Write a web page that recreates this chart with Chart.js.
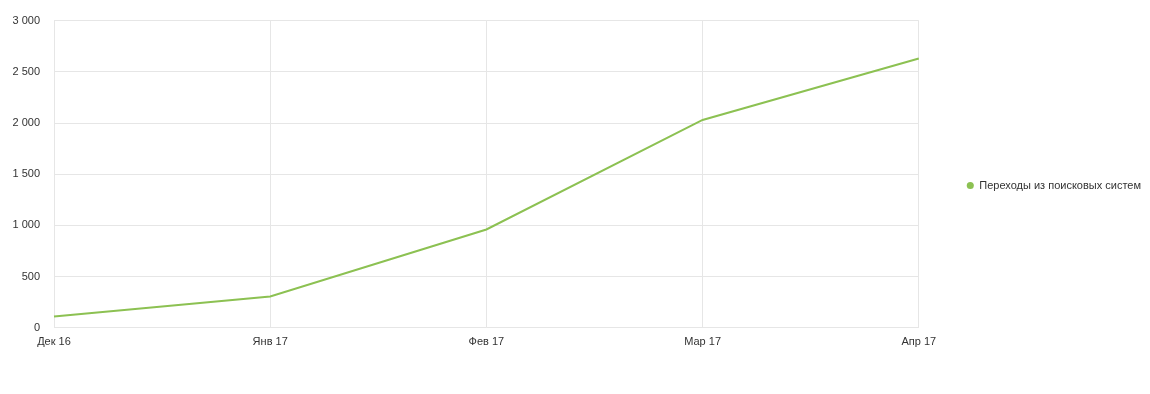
<!DOCTYPE html>
<html>
<head>
<meta charset="utf-8">
<script src="https://cdn.jsdelivr.net/npm/chart.js@4"></script>
<style>
    html, body { margin: 0; padding: 0; background: #fff; }
    #wrap { width: 1150px; height: 394px; position: relative; }
</style>
</head>
<body>
<div id="wrap"><canvas id="trafficChart"></canvas></div>
<script>
// ===== Data =====
const months = ['Дек 16', 'Янв 17', 'Фев 17', 'Мар 17', 'Апр 17'];
const searchVisits = [110, 305, 960, 2030, 2630];
const seriesName = 'Переходы из поисковых систем';

const colors = {
    line: '#8cc152',
    grid: '#e6e6e6',
    text: '#333333'
};

Chart.defaults.font.family = '"Liberation Sans", Arial, sans-serif';
Chart.defaults.font.size = 11;
Chart.defaults.color = colors.text;

// thousand separator with space: 2 500
function fmt(v) {
    return String(v).replace(/\B(?=(\d{3})+(?!\d))/g, ' ');
}

new Chart(document.getElementById('trafficChart'), {
    type: 'line',
    data: {
        labels: months,
        datasets: [{
            label: seriesName,
            data: searchVisits,
            borderColor: colors.line,
            backgroundColor: colors.line,
            borderWidth: 2,
            tension: 0,
            fill: false,
            pointRadius: 0,
            pointHoverRadius: 0
        }]
    },
    options: {
        responsive: true,
        maintainAspectRatio: false,
        animation: false,
        layout: {
            padding: { top: 14, left: 0, right: -1, bottom: 37 }
        },
        plugins: {
            legend: {
                position: 'right',
                labels: {
                    usePointStyle: true,
                    pointStyle: 'circle',
                    boxWidth: 7,
                    boxHeight: 5,
                    padding: 48,
                    font: { size: 11 },
                    color: colors.text,
                    // plain filled dot, no outline
                    generateLabels: chart =>
                        Chart.defaults.plugins.legend.labels.generateLabels(chart)
                            .map(item => ({ ...item, lineWidth: 0 }))
                }
            },
            tooltip: { enabled: false }
        },
        scales: {
            x: {
                offset: false,
                grid: { color: colors.grid, drawTicks: false },
                border: { color: colors.grid },
                ticks: { padding: 8, maxRotation: 0, autoSkip: false }
            },
            y: {
                min: 0,
                max: 3000,
                grid: { color: colors.grid, drawTicks: false },
                border: { color: colors.grid },
                afterFit: scale => { scale.width = 54; },
                ticks: {
                    stepSize: 500,
                    padding: 14,
                    callback: v => fmt(v)
                }
            }
        }
    }
});
</script>
</body>
</html>
